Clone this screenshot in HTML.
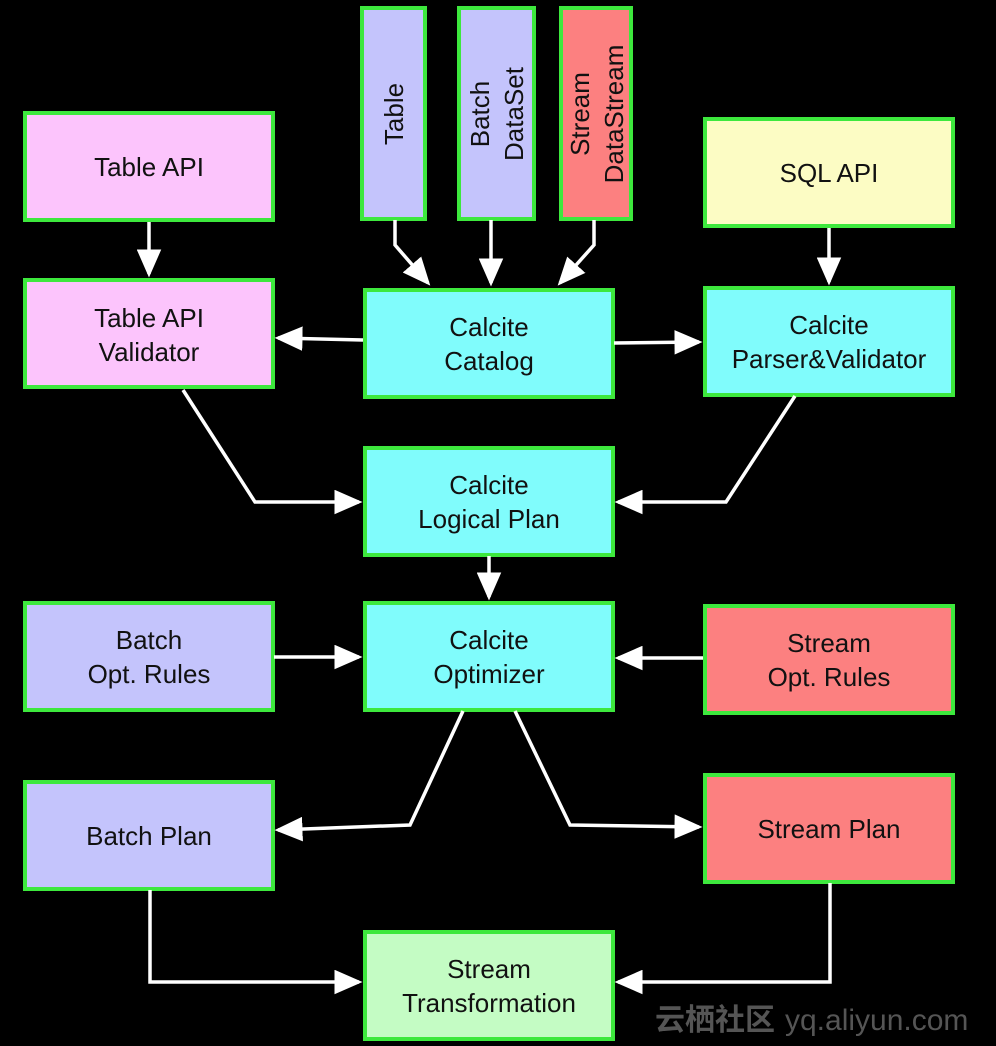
<!DOCTYPE html>
<html><head><style>html,body{margin:0;padding:0;background:#000;}svg{display:block}</style></head><body>
<svg width="996" height="1046" viewBox="0 0 996 1046" xmlns="http://www.w3.org/2000/svg" font-family="Liberation Sans, Arial, sans-serif" font-size="26" fill="#111">
<defs><marker id="a" markerWidth="8" markerHeight="7" refX="7" refY="3.5" orient="auto" markerUnits="strokeWidth"><path d="M0,0 L8,3.5 L0,7 Z" fill="#fff"/></marker></defs>
<g stroke="#3de83d" stroke-width="4">
<rect x="25" y="113" width="248" height="107" fill="#fcc4fc"/>
<rect x="25" y="280" width="248" height="107" fill="#fcc4fc"/>
<rect x="362" y="8" width="63" height="211" fill="#c4c4fc"/>
<rect x="459" y="8" width="75" height="211" fill="#c4c4fc"/>
<rect x="561" y="8" width="70" height="211" fill="#fc8080"/>
<rect x="705" y="119" width="248" height="107" fill="#fcfcc4"/>
<rect x="365" y="290" width="248" height="107" fill="#80fcfc"/>
<rect x="705" y="288" width="248" height="107" fill="#80fcfc"/>
<rect x="365" y="448" width="248" height="107" fill="#80fcfc"/>
<rect x="365" y="603" width="248" height="107" fill="#80fcfc"/>
<rect x="25" y="603" width="248" height="107" fill="#c4c4fc"/>
<rect x="705" y="606" width="248" height="107" fill="#fc8080"/>
<rect x="25" y="782" width="248" height="107" fill="#c4c4fc"/>
<rect x="705" y="775" width="248" height="107" fill="#fc8080"/>
<rect x="365" y="932" width="248" height="107" fill="#c4fcc4"/>
</g>
<g text-anchor="middle">
<text x="149" y="176">Table API</text>
<text x="149" y="327">Table API</text><text x="149" y="361">Validator</text>
<text x="829" y="182">SQL API</text>
<text x="489" y="336">Calcite</text><text x="489" y="370">Catalog</text>
<text x="829" y="334">Calcite</text><text x="829" y="368">Parser&amp;Validator</text>
<text x="489" y="494">Calcite</text><text x="489" y="528">Logical Plan</text>
<text x="489" y="649">Calcite</text><text x="489" y="683">Optimizer</text>
<text x="149" y="649">Batch</text><text x="149" y="683">Opt. Rules</text>
<text x="829" y="652">Stream</text><text x="829" y="686">Opt. Rules</text>
<text x="149" y="845">Batch Plan</text>
<text x="829" y="838">Stream Plan</text>
<text x="489" y="978">Stream</text><text x="489" y="1012">Transformation</text>
<text transform="translate(403,114) rotate(-90)">Table</text>
<text transform="translate(489,114) rotate(-90)">Batch</text>
<text transform="translate(523,114) rotate(-90)">DataSet</text>
<text transform="translate(589,114) rotate(-90)">Stream</text>
<text transform="translate(623,114) rotate(-90)">DataStream</text>
</g>
<g stroke="#fff" stroke-width="3.5" fill="none" marker-end="url(#a)">
<path d="M149,222 L149,274"/>
<path d="M395,220 L395,245 L428,283"/>
<path d="M491,220 L491,283"/>
<path d="M594,220 L594,245 L560,283"/>
<path d="M829,228 L829,282"/>
<path d="M363,340 L278,338"/>
<path d="M614,343 L699,342"/>
<path d="M183,390 L255,502 L359,502"/>
<path d="M795,396 L726,502 L618,502"/>
<path d="M489,556 L489,597"/>
<path d="M274,657 L359,657"/>
<path d="M703,658 L618,658"/>
<path d="M463,711 L410,825 L278,830"/>
<path d="M515,711 L570,825 L699,827"/>
<path d="M150,890 L150,982 L359,982"/>
<path d="M830,883 L830,982 L618,982"/>
</g>
<text x="655" y="1030" font-size="30" fill="#555" font-family="Liberation Sans, Noto Sans CJK SC, sans-serif" font-weight="bold">云栖社区</text>
<text x="785" y="1030" font-size="30" fill="#555">yq.aliyun.com</text>
</svg>
</body></html>
